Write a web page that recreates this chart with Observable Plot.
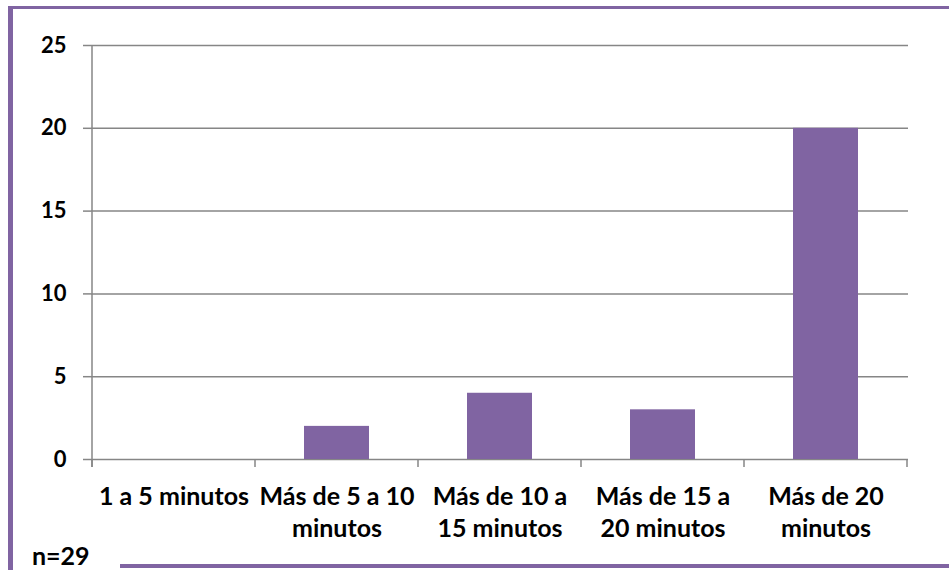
<!DOCTYPE html>
<html>
<head>
<meta charset="utf-8">
<script src="https://cdn.jsdelivr.net/npm/d3@7"></script>
<script src="https://cdn.jsdelivr.net/npm/@observablehq/plot@0.6"></script>
<style>
  body { margin: 0; background: #fff; }
  #chart { position: relative; width: 949px; height: 570px; overflow: hidden; font-family: Lato, sans-serif; }
  #chart svg { position: absolute; left: 0; top: 0; }
  .frame { position: absolute; background: #8064A2; }
  #note { position: absolute; left: 32px; top: 543px; font: bold 25px/24px Lato, sans-serif; color: #000; }
</style>
</head>
<body>
<div id="chart">
  <div class="frame" style="left:8px;top:6px;width:941px;height:3px"></div>
  <div class="frame" style="left:8px;top:6px;width:5px;height:564px"></div>
  <div class="frame" style="left:120px;top:564px;width:829px;height:4px"></div>
  <div id="note"></div>
</div>
<script>
// Time categories and number of responses in each
const categories = ["1 a 5 minutos", "Más de 5 a 10 minutos", "Más de 10 a 15 minutos", "Más de 15 a 20 minutos", "Más de 20 minutos"];
const tickLabels = ["1 a 5 minutos", "Más de 5 a 10\nminutos", "Más de 10 a\n15 minutos", "Más de 15 a\n20 minutos", "Más de 20\nminutos"];
const counts = [0, 2, 4, 3, 20];
const yTicks = [0, 5, 10, 15, 20, 25];
const sampleNote = "n=29";

const table = categories.map((c, i) => ({category: c, count: counts[i]}));

const purple = "#8064A2";
const gray = "#868686";

// Vertical axis line plus the category boundary tick marks under the baseline
function categoryFrame(index, scales, values, dimensions) {
  const x = scales.x, y = scales.y;
  const step = x(categories[1]) - x(categories[0]);
  const bw = typeof x.bandwidth === "function" ? x.bandwidth() : step * 0.4;
  const gap = (step - bw) / 2;
  const bounds = categories.map(c => x(c) - gap);
  bounds.push(x(categories[categories.length - 1]) + bw + gap);
  const y0 = y(0), yTop = y(yTicks[yTicks.length - 1]);
  const g = d3.create("svg:g").attr("stroke", gray).attr("stroke-width", 1.5).attr("fill", "none");
  g.append("line").attr("x1", bounds[0]).attr("x2", bounds[0]).attr("y1", yTop).attr("y2", y0 + 8);
  g.selectAll("line.b").data(bounds).join("line").attr("class", "b")
    .attr("x1", d => d).attr("x2", d => d).attr("y1", y0).attr("y2", y0 + 8);
  return g.node();
}

const chart = Plot.plot({
  width: 949,
  height: 570,
  marginLeft: 91,
  marginRight: 41,
  marginTop: 45,
  marginBottom: 111,
  style: {fontFamily: "Lato, sans-serif", fontWeight: "bold", color: "#000", background: "transparent"},
  x: {domain: categories, paddingInner: 0.6, paddingOuter: 0.3, label: null},
  y: {domain: [0, 25], label: null},
  marks: [
    Plot.gridY(yTicks, {stroke: gray, strokeWidth: 1.5, strokeOpacity: 1}),
    Plot.barY(table, {x: "category", y: "count", fill: purple}),
    Plot.axisY(yTicks, {tickSize: 8, tickPadding: 17, fontSize: 22, stroke: gray, strokeWidth: 1.5, strokeOpacity: 1, fill: "#000", tickFormat: d => String(d)}),
    Plot.axisX({tickSize: 0, tickPadding: 23, fontSize: 25, lineHeight: 1.28, fill: "#000",
      tickFormat: d => tickLabels[categories.indexOf(d)]}),
    categoryFrame
  ]
});

document.getElementById("chart").prepend(chart);
document.getElementById("note").textContent = sampleNote;
</script>
</body>
</html>
